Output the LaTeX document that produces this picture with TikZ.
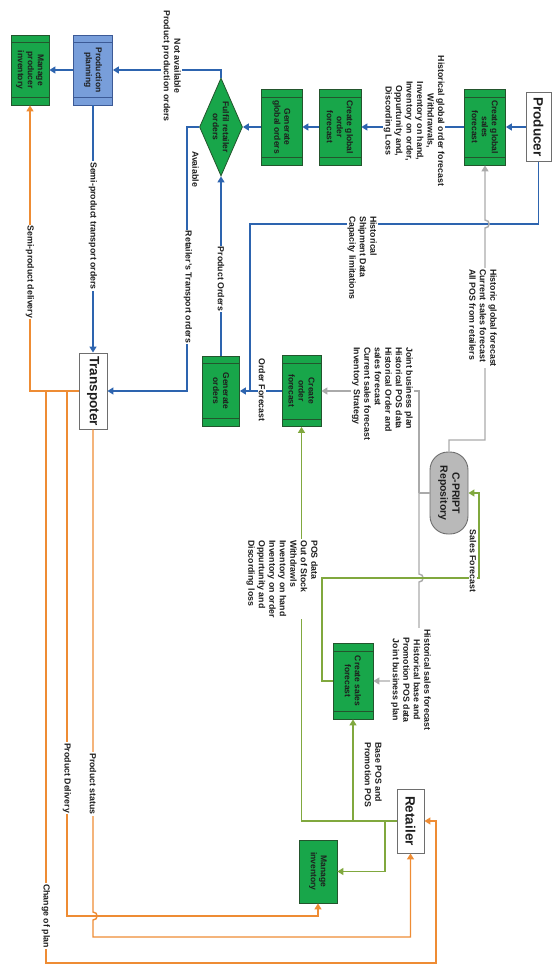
\documentclass[tikz,border=0pt]{standalone}
\usepackage{fontspec}
\setmainfont{Liberation Sans}
\usetikzlibrary{arrows.meta,calc,shapes.geometric}
\definecolor{gfill}{RGB}{24,166,74}
\definecolor{gedge}{RGB}{35,85,45}
\definecolor{pfill}{RGB}{120,158,218}
\definecolor{pedge}{RGB}{60,90,150}
\definecolor{blueln}{RGB}{45,100,175}
\definecolor{orangeln}{RGB}{238,140,52}
\definecolor{grayln}{RGB}{170,170,170}
\definecolor{greenln}{RGB}{128,168,62}
\definecolor{repofill}{RGB}{185,185,185}
\definecolor{repoedge}{RGB}{110,110,110}
\definecolor{entedge}{RGB}{110,110,110}
\definecolor{txt}{RGB}{30,30,30}
\newcommand\mystrips[2]{%
 \draw[stripln=#2] ($(#1.north west)!0.11!(#1.north east)$) -- ($(#1.south west)!0.11!(#1.south east)$);
 \draw[stripln=#2] ($(#1.north west)!0.89!(#1.north east)$) -- ($(#1.south west)!0.89!(#1.south east)$);}
\begin{document}
\begin{tikzpicture}[x=1pt,y=-1pt,
  arr/.style={-{Triangle[length=6pt,width=7pt]}},
  bl/.style={draw=blueln,line width=1.4pt},
  og/.style={draw=orangeln,line width=1.4pt},
  gy/.style={draw=grayln,line width=1.4pt},
  gn/.style={draw=greenln,line width=1.4pt},
  stripln/.style={draw=#1,line width=0.8pt},
  proc/.style={rectangle,rotate=-90,draw=gedge,fill=gfill,line width=0.8pt,align=center,inner sep=1pt,text=txt,font=\bfseries\fontsize{8.5}{10}\selectfont},
  ent/.style={rectangle,rotate=-90,draw=entedge,fill=white,line width=0.9pt,font=\bfseries\fontsize{13.5}{15}\selectfont,text=txt,inner sep=0pt},
  lab/.style={rotate=-90,font=\bfseries\fontsize{8.8}{10.5}\selectfont,text=txt,inner sep=1pt},
  labw/.style={lab,fill=white}]
\useasboundingbox (0,0) rectangle (553,973);

% ---------- nodes ----------
\node[proc,minimum width=70pt,minimum height=38pt] (mpi) at (30,70) {Manage\\producer\\inventory};
\node[proc,draw=pedge,fill=pfill,minimum width=70pt,minimum height=39pt] (pp) at (93,70) {Production\\planning};
\node[diamond,rotate=-90,draw=gedge,fill=gfill,line width=0.8pt,aspect=2.28,minimum width=98pt,minimum height=43pt,inner sep=0pt,align=center,text=txt,font=\bfseries\fontsize{8.5}{10}\selectfont] (fro) at (221,127) {Fulfil retailer\\orders};
\node[proc,minimum width=76pt,minimum height=41pt] (ggo) at (281.5,127) {Generate\\global orders};
\node[proc,minimum width=76pt,minimum height=42pt] (cgof) at (340,127) {Create global\\order\\forecast};
\node[proc,minimum width=76pt,minimum height=41pt] (cgsf) at (485,127) {Create global\\sales\\forecast};
\node[ent,minimum width=69pt,minimum height=25pt] (prod) at (538.5,127) {Producer};
\node[ent,minimum width=76pt,minimum height=28pt] (trans) at (93,391) {Transpoter};
\node[proc,minimum width=70pt,minimum height=37pt] (gen) at (221,391) {Generate\\orders};
\node[proc,minimum width=71pt,minimum height=39pt] (cof) at (301.5,391) {Create\\order\\forecast};
\node[rectangle,rounded corners=18pt,rotate=-90,draw=repoedge,fill=repofill,line width=0.9pt,minimum width=82pt,minimum height=38pt,align=center,text=txt,font=\bfseries\fontsize{10.5}{12}\selectfont] (cpr) at (449,493) {C-PRIPT\\Repository};
\node[proc,minimum width=76pt,minimum height=40pt] (csf) at (353,681) {Create sales\\forecast};
\node[ent,minimum width=64pt,minimum height=27pt] (ret) at (410.5,821) {Retailer};
\node[proc,minimum width=63pt,minimum height=38pt] (mi) at (318,871.5) {Manage\\inventory};

\mystrips{mpi}{gedge}
\mystrips{pp}{pedge}
\mystrips{ggo}{gedge}
\mystrips{cgof}{gedge}
\mystrips{cgsf}{gedge}
\mystrips{gen}{gedge}
\mystrips{cof}{gedge}
\mystrips{csf}{gedge}

% ---------- coordinates ----------
\coordinate (hsd) at (250,224);
\coordinate (ofj) at (250,391);
\coordinate (gc1) at (485,440);
\coordinate (gj) at (419,493);
\coordinate (sf1) at (322,578);
\coordinate (sf2) at (479,493);
\coordinate (rb1) at (353,821);
\coordinate (rb2) at (385,821);
\coordinate (od) at (30,391);
\coordinate (cp0) at (46,391);
\coordinate (cp1) at (436,963);
\coordinate (pd0) at (67,391);
\coordinate (pd1) at (318,916);
\coordinate (ps1) at (410.5,937);

% ---------- blue ----------
\draw[bl,arr] (pp) -- (mpi);
\draw[bl,arr] (fro) |- (pp);
\draw[bl,arr] (ggo) -- (fro);
\draw[bl,arr] (cgof) -- (ggo);
\draw[bl,arr] (cgsf) -- (cgof);
\draw[bl,arr] (prod) -- (cgsf);
\draw[bl,arr] (pp) -- (trans);
\draw[bl,arr] (fro.south) -- ++(-12,0) |- (trans);
\draw[bl,arr] (gen) -- (fro);
\draw[bl,arr] (prod) |- (hsd) |- (gen);
\draw[bl] (cof) -- (ofj);

% ---------- gray ----------
\draw[gy,arr] (cpr) |- (gc1) -- (485,228) .. controls (490.5,228) and (490.5,220) .. (485,220) -- (cgsf);
\draw[gy] (cpr) -- (gj);
\draw[gy,arr] (gj) |- (cof);
\draw[gy,arr] (gj) -- (419,574) .. controls (424.5,574) and (424.5,582) .. (419,582) |- (csf);

% ---------- green ----------
\draw[gn,arr] (ret) -| (cof);
\draw[gn,arr] (rb1) -- (csf);
\draw[gn,arr] (rb2) |- (mi);
\draw[gn,arr] (csf) -| (sf1) -| (sf2) -- (cpr);

% ---------- orange ----------
\draw[og,arr] (trans) -- (od) -- (mpi);
\draw[og,arr] (cp0) |- (cp1) |- (ret);
\draw[og,arr] (pd0) |- (pd1) -- (mi);
\draw[og,arr] (trans) -- (93,912) .. controls (98.5,912) and (98.5,920) .. (93,920) |- (ps1) -- (ret);

% ---------- labels ----------
\node[labw,align=center] (l1) at (171.5,66) {Not available\\Product production orders};
\node[labw,align=center] (l2) at (414,121) {Historical global order forecast\\Withdrawals,\\Inventory on hand,\\Inventory on order,\\Oppurtunity and,\\Discording Loss};
\node[labw,align=left,anchor=north west] (l3) at (378,215) {Historical\\Shipment Data\\Capacity limitations};
\node[labw,align=left] (l4) at (483,318) {Historic global forecast\\Current sales forecast\\All POS from retailers};
\node[labw,align=left,anchor=north west] (l5) at (414,346) {Joint business plan\\Historical POS data\\Historical Order and\\sales forecast\\Current sales forecast\\Inventory Strategy};
\node[labw] (l6) at (93,226) {Semi-product transport orders};
\node[lab,anchor=south] (l7) at (191,169) {Avaiable};
\node[labw] (l8) at (188,287) {Retailer’s Transport orders};
\node[labw] (l9) at (221,279) {Product Orders};
\node[labw] (l10) at (262,390) {Order Forecast};
\node[labw] (l11) at (30,272) {Semi-product delivery};
\node[labw,inner sep=0.3pt] (l12) at (473,561) {Sales Forecast};
\node[labw,align=left,anchor=north west] (l13) at (319,539) {POS data\\Out of Stock\\Withdrawls\\Inventory on hand\\Inventory on order\\Oppurtunity and\\Discording loss};
\node[labw,align=center] (l14) at (411,680) {Historical sales forecast\\Historical base and\\Promotion POS data\\Joint business plan};
\node[lab,align=left,anchor=north west] (l15) at (383,741) {Base POS and\\Promotion POS};
\node[labw] (l16) at (67,778) {Product Delivery};
\node[labw] (l17) at (93,784) {Product status};
\node[labw] (l18) at (46,916) {Change of plan};
\end{tikzpicture}
\end{document}
